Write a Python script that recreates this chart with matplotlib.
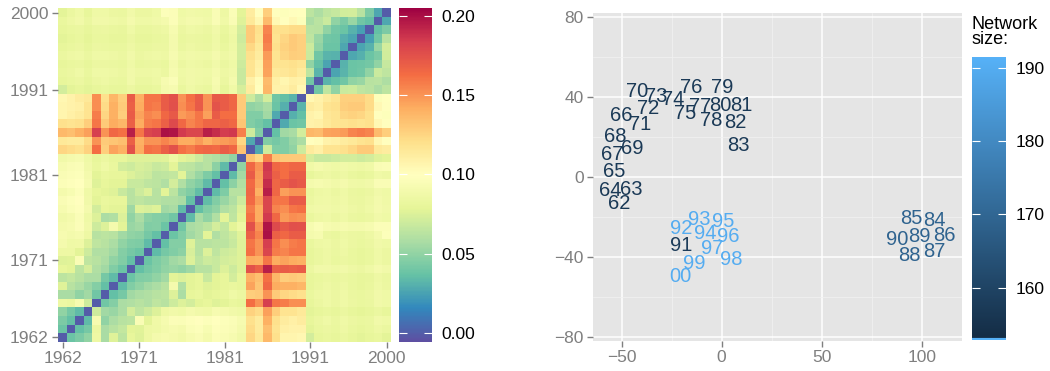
import numpy as np
import matplotlib
matplotlib.use("Agg")
import matplotlib.pyplot as plt
from matplotlib.colors import LinearSegmentedColormap, Normalize

plt.rcParams['font.family'] = ['Liberation Sans', 'DejaVu Sans']

years = list(range(1962, 2001))
year_ticks = [1962, 1971, 1981, 1991, 2000]

# upper triangle of the distance matrix: row for year r holds cols r+1 .. 2000
dist_upper = [
    [.038, .043, .050, .085, .057, .076, .064, .080, .076, .085, .090, .092,
     .090, .088, .092, .094, .090, .096, .094, .092, .088,
     .125, .115, .137, .120, .107, .107, .105,
     .072, .080, .082, .080, .083, .080, .078, .080, .082, .078],
    [.036, .042, .084, .057, .062, .066, .078, .077, .085, .086, .089,
     .092, .090, .095, .097, .093, .098, .096, .094, .090,
     .122, .113, .135, .118, .110, .108, .108,
     .078, .082, .084, .082, .085, .082, .080, .082, .085, .083],
    [.034, .092, .050, .058, .062, .064, .094, .078, .087, .091,
     .096, .095, .098, .100, .097, .099, .097, .095, .092,
     .120, .113, .140, .120, .112, .110, .112,
     .080, .084, .086, .083, .086, .084, .082, .083, .088, .086],
    [.070, .055, .052, .058, .072, .065, .070, .075, .085,
     .088, .086, .090, .088, .087, .092, .090, .088, .086,
     .126, .122, .146, .128, .118, .118, .115,
     .078, .080, .082, .080, .083, .080, .079, .080, .083, .080],
    [.040, .046, .058, .060, .062, .060, .065, .062,
     .070, .075, .072, .078, .080, .076, .078, .082, .080,
     .163, .150, .183, .160, .158, .152, .152,
     .080, .084, .086, .084, .086, .084, .082, .083, .088, .086],
    [.036, .042, .055, .058, .060, .062, .064,
     .075, .058, .080, .082, .078, .080, .082, .086, .084,
     .128, .130, .150, .130, .125, .122, .120,
     .082, .085, .086, .084, .086, .083, .082, .084, .088, .086],
    [.034, .045, .050, .055, .058, .062,
     .090, .060, .078, .080, .076, .078, .080, .082, .080,
     .145, .132, .165, .142, .140, .140, .138,
     .080, .083, .085, .083, .085, .082, .080, .082, .086, .084],
    [.038, .045, .046, .050, .055,
     .078, .075, .078, .080, .068, .078, .080, .072, .080,
     .140, .135, .162, .138, .128, .130, .128,
     .080, .082, .084, .082, .084, .082, .080, .081, .085, .083],
    [.036, .042, .045, .050,
     .052, .050, .054, .062, .062, .068, .075, .070, .076,
     .175, .168, .195, .168, .170, .168, .170,
     .084, .088, .088, .086, .088, .085, .084, .086, .090, .088],
    [.038, .044, .048,
     .055, .058, .075, .065, .070, .068, .072, .074, .076,
     .142, .140, .160, .142, .145, .142, .140,
     .080, .083, .085, .082, .084, .082, .080, .082, .086, .084],
    [.034, .042,
     .045, .048, .074, .062, .075, .065, .070, .072, .076,
     .162, .150, .180, .158, .155, .160, .160,
     .080, .083, .085, .083, .085, .082, .080, .082, .086, .084],
    [.036,
     .046, .046, .076, .062, .062, .064, .064, .068, .076,
     .160, .150, .183, .160, .152, .158, .160,
     .082, .085, .086, .084, .086, .084, .082, .084, .088, .086],
    [.038, .045, .055, .060, .078, .060, .065, .070, .077,
     .168, .155, .200, .168, .165, .170, .170,
     .090, .092, .084, .082, .085, .084, .083, .085, .090, .097],
    [.040, .057, .060, .064, .072, .066, .078, .085,
     .175, .150, .198, .178, .172, .176, .175,
     .092, .095, .092, .090, .092, .090, .090, .092, .096, .096],
    [.034, .057, .050, .060, .078, .065, .078,
     .162, .142, .185, .165, .148, .152, .150,
     .082, .085, .086, .084, .086, .083, .082, .084, .088, .086],
    [.036, .045, .050, .060, .064, .075,
     .158, .142, .180, .155, .152, .160, .162,
     .086, .088, .088, .086, .088, .085, .084, .086, .090, .088],
    [.035, .045, .052, .060, .070,
     .164, .148, .180, .160, .160, .171, .170,
     .084, .086, .087, .085, .087, .084, .083, .085, .089, .087],
    [.034, .044, .062, .062,
     .166, .140, .195, .166, .146, .150, .150,
     .082, .085, .086, .084, .086, .083, .082, .084, .088, .086],
    [.036, .048, .060,
     .164, .146, .190, .166, .170, .174, .172,
     .090, .092, .090, .088, .090, .087, .086, .088, .094, .094],
    [.034, .056,
     .170, .148, .184, .168, .163, .170, .170,
     .080, .084, .085, .083, .085, .082, .080, .082, .087, .085],
    [.050,
     .165, .150, .186, .165, .163, .166, .166,
     .087, .090, .088, .086, .088, .086, .085, .087, .094, .095],
    [.133, .124, .157, .132, .130, .130, .130,
     .073, .068, .068, .070, .072, .072, .070, .072, .076, .078],
    [.028, .070, .045, .045, .050, .070,
     .113, .110, .118, .118, .120, .124, .130, .130, .115, .112],
    [.045, .042, .045, .052, .058,
     .100, .102, .108, .110, .112, .115, .118, .120, .105, .100],
    [.036, .055, .057, .072,
     .138, .136, .145, .146, .148, .155, .158, .155, .136, .128],
    [.028, .038, .040,
     .108, .110, .115, .118, .118, .120, .118, .120, .104, .100],
    [.030, .036,
     .108, .106, .116, .118, .125, .126, .125, .120, .100, .098],
    [.032,
     .112, .110, .118, .120, .128, .130, .130, .122, .104, .100],
    [.104, .108, .113, .117, .127, .127, .127, .122, .097, .099],
    [.040, .065, .050, .069, .070, .065, .063, .058, .064],
    [.032, .036, .040, .050, .052, .062, .063, .059],
    [.026, .032, .038, .040, .050, .069, .065],
    [.031, .038, .039, .041, .050, .067],
    [.027, .030, .038, .043, .071],
    [.026, .031, .052, .072],
    [.024, .040, .062],
    [.036, .043],
    [.027],
]

# MDS positions and network size per year
labels = ['62', '63', '64', '65', '66', '67', '68', '69', '70', '71', '72', '73',
          '74', '75', '76', '77', '78', '79', '80', '81', '82', '83', '84', '85',
          '86', '87', '88', '89', '90', '91', '92', '93', '94', '95', '96', '97',
          '98', '99', '00']
pos_x = [-51.3, -45.0, -55.8, -53.8, -50.3, -54.7, -53.0, -44.7, -42.5, -40.8,
         -36.7, -32.5, -24.2, -18.3, -15.0, -10.8, -5.0, 0.5, -0.8, 9.7, 7.0,
         8.3, 106.3, 94.7, 111.3, 106.3, 93.8, 98.7, 88.0, -20.3, -20.3, -11.2,
         -8.0, 0.8, 3.3, -4.5, 5.0, -13.7, -20.5]
pos_y = [-13.3, -6.2, -6.7, 2.5, 30.5, 11.3, 20.0, 14.2, 42.8, 26.3, 34.2, 40.0,
         38.7, 31.7, 44.5, 35.3, 28.0, 44.5, 35.8, 35.8, 27.0, 15.5, -22.0,
         -20.8, -29.5, -37.5, -39.5, -30.0, -31.2, -34.2, -25.8, -21.2, -28.3,
         -22.2, -30.0, -35.8, -41.2, -43.3, -50.0]
net_size = [157, 157, 157, 157, 157, 157, 157, 157, 157, 157, 157, 157, 157,
            157, 157, 157, 157, 157, 157, 157, 157, 157, 169, 169, 169, 169,
            169, 169, 169, 158, 190, 190, 190, 190, 190, 190, 190, 190, 190]

GREY = '#7F7F7F'

n = len(years)
mat = np.zeros((n, n))
for i, row in enumerate(dist_upper):
    mat[i, i + 1:] = row
mat = mat + mat.T

fig = plt.figure(figsize=(10.5, 3.71), dpi=100)

# left: heatmap
ax = fig.add_axes([0.0555, 0.079, 0.3169, 0.8986])
edges = np.arange(years[0] - 0.5, years[-1] + 1.0, 1.0)
hm = ax.pcolormesh(edges, edges, mat, cmap='Spectral_r', vmin=-0.0057, vmax=0.205)
ax.set_xlim(edges[0], edges[-1])
ax.set_ylim(edges[0], edges[-1])
ax.set_xticks(year_ticks)
ax.set_yticks(year_ticks)
ax.tick_params(colors=GREY, labelcolor=GREY, labelsize=12.5, length=4, width=1, pad=3)
for s in ax.spines.values():
    s.set_visible(False)

cax = fig.add_axes([0.380, 0.0782, 0.0311, 0.9003])
cb = fig.colorbar(hm, cax=cax, ticks=[0.0, 0.05, 0.10, 0.15, 0.20])
cb.ax.set_yticklabels(['0.00', '0.05', '0.10', '0.15', '0.20'])
cb.outline.set_visible(False)
cax.tick_params(direction='in', color='white', width=0.8, length=6, labelsize=12.5,
                labelcolor='black', left=True, right=True, pad=7)

# right: MDS text scatter
ax2 = fig.add_axes([0.565, 0.0817, 0.3509, 0.884])
ax2.set_facecolor('#E5E5E5')
ax2.set_xlim(-64.2, 120)
ax2.set_ylim(-82, 82)
ax2.set_xticks([-50, 0, 50, 100])
ax2.set_yticks([-80, -40, 0, 40, 80])
ax2.set_xticks([-25, 25, 75], minor=True)
ax2.set_yticks([-60, -20, 20, 60], minor=True)
ax2.grid(True, which='major', color='white', linewidth=1.1)
ax2.grid(True, which='minor', color='#F2F2F2', linewidth=0.5)
ax2.set_axisbelow(True)
ax2.tick_params(which='major', colors=GREY, labelcolor=GREY, labelsize=12.5,
                length=4, width=1, pad=3)
ax2.tick_params(which='minor', length=0)
for s in ax2.spines.values():
    s.set_visible(False)

blues = LinearSegmentedColormap.from_list('ggblues', ['#132B43', '#56B1F7'])
norm = Normalize(vmin=152.9, vmax=191.4)
for lab, x, y, s in zip(labels, pos_x, pos_y, net_size):
    ax2.text(x, y, lab, ha='center', va='center', fontsize=14.5,
             color=blues(norm(s)))

lax = fig.add_axes([0.926, 0.0836, 0.0318, 0.762])
sm = plt.cm.ScalarMappable(norm=norm, cmap=blues)
cb2 = fig.colorbar(sm, cax=lax, ticks=[160, 170, 180, 190])
cb2.outline.set_visible(False)
lax.tick_params(direction='in', color='white', width=0.8, length=6, labelsize=12.5,
                labelcolor='black', left=True, right=True, pad=7)
lax.axhline(152.9, color='#56B1F7', linewidth=3)
fig.text(0.9254, 0.958, 'Network\nsize:', ha='left', va='top', fontsize=13,
         linespacing=0.9)

fig.savefig('out.png', dpi=100)
